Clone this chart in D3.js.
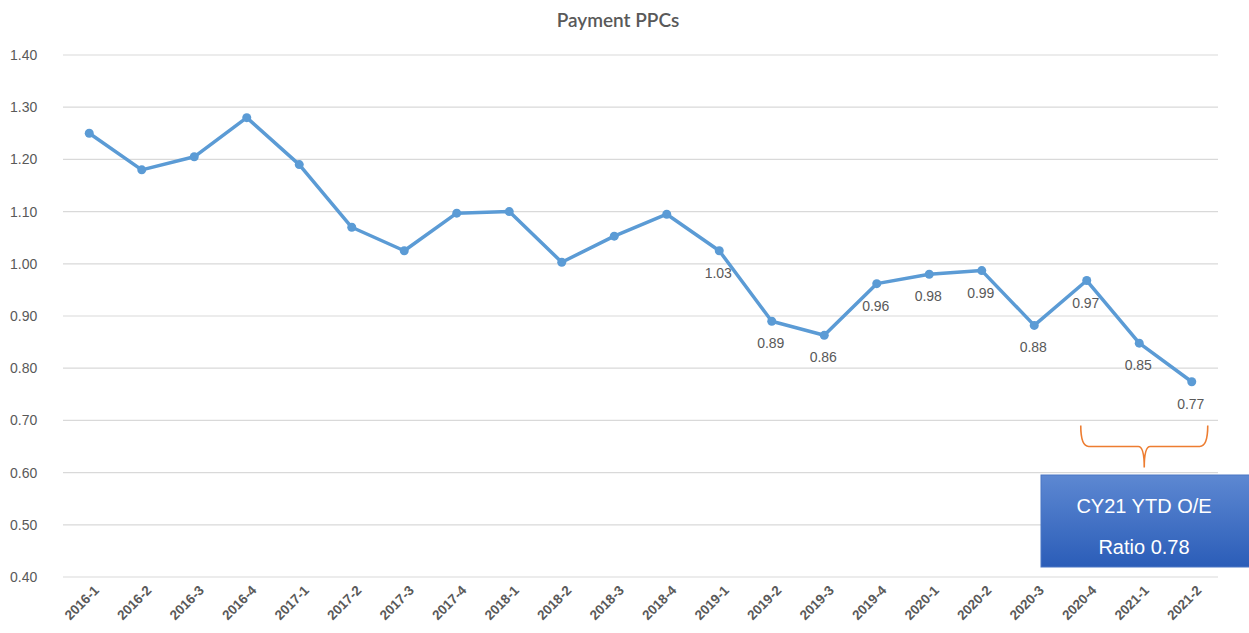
<!DOCTYPE html>
<html>
<head>
<meta charset="utf-8">
<script src="https://d3js.org/d3.v7.min.js"></script>
<style>
body { margin: 0; background: #fff; }
text { font-family: "Liberation Sans", Arial, sans-serif; }
</style>
</head>
<body>
<svg id="chart" width="1249" height="633"></svg>
<script>
var quarters = ["2016-1","2016-2","2016-3","2016-4","2017-1","2017-2","2017-3","2017-4",
  "2018-1","2018-2","2018-3","2018-4","2019-1","2019-2","2019-3","2019-4",
  "2020-1","2020-2","2020-3","2020-4","2021-1","2021-2"];
var ppc = [1.25, 1.18, 1.205, 1.28, 1.19, 1.07, 1.025, 1.097, 1.10, 1.003, 1.053, 1.095,
  1.025, 0.89, 0.863, 0.962, 0.98, 0.987, 0.882, 0.968, 0.848, 0.774];
var labels = [null,null,null,null,null,null,null,null,null,null,null,null,
  "1.03","0.89","0.86","0.96","0.98","0.99","0.88","0.97","0.85","0.77"];
var yTicks = [0.4,0.5,0.6,0.7,0.8,0.9,1.0,1.1,1.2,1.3,1.4];

var svg = d3.select("#chart"),
    margin = {top: 55, right: 31, bottom: 56, left: 63},
    width = +svg.attr("width") - margin.left - margin.right,
    height = +svg.attr("height") - margin.top - margin.bottom,
    g = svg.append("g").attr("transform", "translate(" + margin.left + "," + margin.top + ")");

var x = d3.scalePoint()
  .domain(quarters)
  .range([0, width])
  .padding(0.5);

var y = d3.scaleLinear()
  .domain([0.4, 1.4])
  .range([height, 0]);

// title
svg.append("text")
  .attr("x", 618).attr("y", 27)
  .attr("text-anchor", "middle")
  .attr("fill", "#595959")
  .style("font-size", "19px")
  .style("font-family", "Lato, sans-serif")
  .style("font-weight", "600")
  .text("Payment PPCs");

// grid
g.append("g")
  .selectAll("line")
  .data(yTicks)
  .join("line")
  .attr("x1", 0).attr("x2", width)
  .attr("y1", d => y(d)).attr("y2", d => y(d))
  .attr("stroke", "#d9d9d9")
  .attr("stroke-width", 1.2);

// y axis
var yAxis = g.append("g")
  .call(d3.axisLeft(y).tickValues(yTicks).tickFormat(d3.format(".2f")).tickSize(0));
yAxis.select(".domain").remove();
yAxis.selectAll("text")
  .attr("fill", "#595959")
  .style("font-size", "14px")
  .attr("text-anchor", "start")
  .attr("x", -53);

// x axis
var xAxis = g.append("g")
  .attr("transform", "translate(0," + height + ")")
  .call(d3.axisBottom(x).tickSize(0));
xAxis.select(".domain").remove();
xAxis.selectAll("text")
  .attr("fill", "#595959")
  .style("font-size", "13.5px")
  .style("font-weight", "bold")
  .attr("text-anchor", "end")
  .attr("dy", 0)
  .attr("transform", "translate(8,12) rotate(-45)");

// line
var line = d3.line()
  .x((d, i) => x(quarters[i]))
  .y(d => y(d));

g.append("path")
  .datum(ppc)
  .attr("fill", "none")
  .attr("stroke", "#5b9bd5")
  .attr("stroke-width", 3.5)
  .attr("stroke-linejoin", "round")
  .attr("d", line);

g.selectAll("circle.pt")
  .data(ppc)
  .join("circle")
  .attr("class", "pt")
  .attr("cx", (d, i) => x(quarters[i]))
  .attr("cy", d => y(d))
  .attr("r", 4.5)
  .attr("fill", "#5b9bd5");

// data labels
g.selectAll("text.lbl")
  .data(ppc.map((d, i) => ({v: d, q: quarters[i], t: labels[i]})).filter(d => d.t))
  .join("text")
  .attr("class", "lbl")
  .attr("x", d => x(d.q) - 1)
  .attr("y", d => y(d.v) + 27)
  .attr("text-anchor", "middle")
  .attr("fill", "#595959")
  .style("font-size", "14px")
  .text(d => d.t);

// bracket over the 2021 part
var bx0 = x("2020-4") - 6, bx1 = x("2021-2") + 16,
    bTop = y(0.69), bMid = y(0.65), bTip = y(0.61), bc = (bx0 + bx1) / 2;
g.append("path")
  .attr("fill", "none")
  .attr("stroke", "#ed7d31")
  .attr("stroke-width", 1.6)
  .attr("d", "M" + bx0 + "," + bTop +
    " Q" + bx0 + "," + bMid + " " + (bx0 + 8) + "," + bMid +
    " L" + (bc - 6) + "," + bMid +
    " Q" + bc + "," + bMid + " " + bc + "," + bTip +
    " Q" + bc + "," + bMid + " " + (bc + 6) + "," + bMid +
    " L" + (bx1 - 8) + "," + bMid +
    " Q" + bx1 + "," + bMid + " " + bx1 + "," + bTop);

// callout box
var defs = svg.append("defs");
var grad = defs.append("linearGradient").attr("id", "boxgrad")
  .attr("x1", 0).attr("y1", 0).attr("x2", 0).attr("y2", 1);
grad.append("stop").attr("offset", "0%").attr("stop-color", "#5d88d2");
grad.append("stop").attr("offset", "100%").attr("stop-color", "#2b5db8");

var box = svg.append("g").attr("transform", "translate(1041,475)");
box.append("rect")
  .attr("width", 215).attr("height", 92)
  .attr("fill", "url(#boxgrad)")
  .attr("stroke", "#4a76c4");
box.append("text")
  .attr("x", 103).attr("y", 38)
  .attr("text-anchor", "middle")
  .attr("fill", "#fff")
  .style("font-size", "20px")
  .text("CY21 YTD O/E");
box.append("text")
  .attr("x", 103).attr("y", 79)
  .attr("text-anchor", "middle")
  .attr("fill", "#fff")
  .style("font-size", "20px")
  .text("Ratio 0.78");
</script>
</body>
</html>
